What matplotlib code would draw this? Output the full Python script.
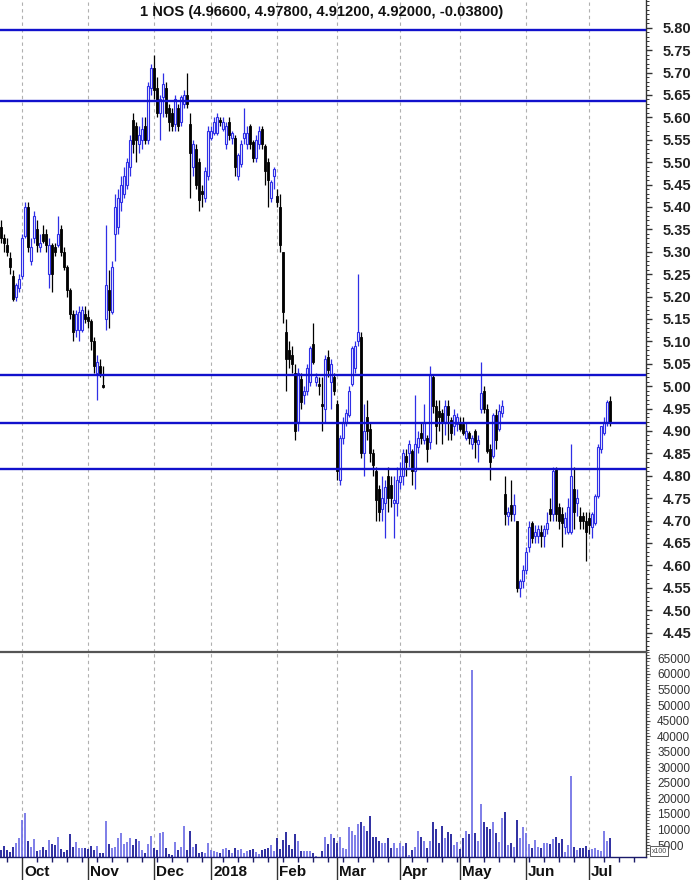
import numpy as np
import pandas as pd
import matplotlib
matplotlib.use("Agg")
import matplotlib.pyplot as plt
from matplotlib.ticker import MultipleLocator, FixedLocator, FuncFormatter, NullFormatter

plt.rcParams['font.family'] = ['Liberation Sans', 'DejaVu Sans']

# ---------------- data ----------------
title = "1 NOS (4.96600, 4.97800, 4.91200, 4.92000, -0.03800)"
holidays = ['2017-12-25', '2017-12-26', '2018-01-01', '2018-03-30', '2018-04-02', '2018-05-01']
start_date = '2017-09-21'
end_date = '2018-07-11'

opens = [5.355, 5.33, 5.315, 5.285, 5.245, 5.20, 5.22,
         5.245, 5.335, 5.40, 5.28, 5.33, 5.35, 5.31, 5.34, 5.34, 5.25, 5.315, 5.31, 5.315, 5.35, 5.30, 5.265, 5.215, 5.16, 5.125, 5.125, 5.125, 5.16,
         5.155, 5.145, 5.10, 5.03, 5.045, 5.00, 5.15, 5.215, 5.165, 5.34, 5.355, 5.41, 5.43, 5.45, 5.49, 5.595, 5.58, 5.54, 5.55, 5.58, 5.55, 5.665,
         5.71, 5.665, 5.61, 5.645, 5.665, 5.62, 5.61, 5.585, 5.62, 5.59, 5.63, 5.65, 5.585, 5.49, 5.53, 5.50, 5.435, 5.42, 5.47,
         5.555, 5.565, 5.565, 5.595, 5.575, 5.54, 5.59, 5.555, 5.555, 5.47, 5.495, 5.555, 5.54, 5.58, 5.545, 5.51, 5.54, 5.575, 5.535, 5.50, 5.42, 5.47,
         5.425, 5.40, 5.30, 5.12, 5.08, 5.07, 5.03, 4.92, 5.015, 4.98, 4.99, 5.01, 5.095, 5.01, 5.005, 4.96, 4.95, 5.065, 5.01, 5.02,
         4.96, 4.79, 4.885, 4.92, 4.935, 5.005, 5.04, 5.10, 5.11, 4.85, 4.93, 4.905, 4.85, 4.81, 4.77, 4.725, 4.74, 4.80, 4.78, 4.74, 4.74,
         4.785, 4.80, 4.845, 4.85, 4.855, 4.81, 4.865, 4.895, 4.88, 4.885, 4.875, 5.02, 4.955, 4.945, 4.94, 4.92, 4.955, 4.925, 4.91, 4.915,
         4.92, 4.915, 4.885, 4.895, 4.87, 4.90, 4.87, 4.95, 4.99, 4.95, 4.86, 4.845, 4.935, 4.905, 4.94, 4.76, 4.71, 4.735, 4.715, 4.70, 4.55, 4.565,
         4.59, 4.64, 4.695, 4.665, 4.665, 4.675, 4.665, 4.68, 4.725, 4.715, 4.815, 4.73, 4.715, 4.685, 4.675, 4.675, 4.77, 4.74, 4.71, 4.71, 4.70,
         4.705, 4.685, 4.695, 4.755, 4.86, 4.895, 4.92, 4.966]
highs = [5.37, 5.34, 5.33, 5.30, 5.26, 5.23, 5.25,
         5.34, 5.41, 5.41, 5.33, 5.39, 5.37, 5.34, 5.36, 5.35, 5.33, 5.32, 5.32, 5.38, 5.36, 5.31, 5.27, 5.22, 5.17, 5.17, 5.18, 5.18, 5.18,
         5.17, 5.15, 5.11, 5.07, 5.06, 5.045, 5.36, 5.26, 5.28, 5.43, 5.44, 5.47, 5.49, 5.51, 5.56, 5.61, 5.59, 5.58, 5.60, 5.60, 5.68, 5.72,
         5.74, 5.69, 5.65, 5.70, 5.68, 5.63, 5.62, 5.65, 5.63, 5.65, 5.66, 5.70, 5.61, 5.55, 5.54, 5.51, 5.45, 5.49, 5.58,
         5.58, 5.60, 5.61, 5.60, 5.60, 5.59, 5.60, 5.57, 5.56, 5.52, 5.55, 5.62, 5.58, 5.585, 5.55, 5.56, 5.58, 5.58, 5.54, 5.51, 5.46, 5.49,
         5.44, 5.43, 5.30, 5.15, 5.10, 5.09, 5.05, 5.04, 5.03, 5.00, 5.05, 5.09, 5.14, 5.03, 5.02, 5.02, 5.07, 5.08, 5.06, 5.03,
         4.97, 4.89, 4.93, 4.95, 5.00, 5.09, 5.10, 5.25, 5.12, 4.96, 4.97, 4.92, 4.86, 4.82, 4.78, 4.80, 4.79, 4.82, 4.80, 4.80, 4.82,
         4.83, 4.86, 4.86, 4.88, 4.86, 4.98, 4.90, 4.92, 4.96, 4.89, 5.045, 5.025, 4.97, 4.97, 4.95, 4.97, 4.97, 4.93, 4.95, 4.94,
         4.93, 4.93, 4.92, 4.90, 4.89, 4.905, 4.89, 5.055, 5.00, 4.96, 4.87, 4.94, 4.95, 4.96, 4.97, 4.80, 4.73, 4.79, 4.76, 4.70, 4.57, 4.60,
         4.64, 4.70, 4.70, 4.69, 4.69, 4.69, 4.69, 4.72, 4.75, 4.82, 4.82, 4.74, 4.73, 4.72, 4.75, 4.87, 4.82, 4.77, 4.73, 4.72, 4.72,
         4.72, 4.72, 4.76, 4.87, 4.91, 4.93, 4.97, 4.978]
lows = [5.32, 5.30, 5.29, 5.25, 5.19, 5.19, 5.21,
        5.24, 5.33, 5.30, 5.27, 5.32, 5.30, 5.30, 5.32, 5.30, 5.22, 5.21, 5.29, 5.31, 5.29, 5.26, 5.20, 5.15, 5.10, 5.11, 5.10, 5.12, 5.14,
        5.13, 5.08, 5.03, 4.97, 5.02, 4.995, 5.125, 5.13, 5.16, 5.28, 5.34, 5.39, 5.42, 5.44, 5.47, 5.52, 5.50, 5.52, 5.53, 5.54, 5.54, 5.65,
        5.64, 5.60, 5.55, 5.60, 5.60, 5.57, 5.57, 5.57, 5.57, 5.58, 5.62, 5.62, 5.42, 5.47, 5.44, 5.39, 5.40, 5.41, 5.46,
        5.55, 5.56, 5.56, 5.58, 5.57, 5.53, 5.55, 5.54, 5.47, 5.46, 5.49, 5.54, 5.53, 5.53, 5.50, 5.50, 5.53, 5.53, 5.45, 5.40, 5.41, 5.44,
        5.40, 5.30, 5.14, 4.99, 5.04, 5.03, 4.88, 4.90, 4.95, 4.96, 4.98, 5.00, 5.05, 5.00, 4.98, 4.90, 4.92, 5.02, 4.95, 4.98,
        4.79, 4.78, 4.87, 4.91, 4.93, 5.00, 5.03, 5.09, 4.84, 4.80, 4.88, 4.83, 4.80, 4.70, 4.70, 4.70, 4.66, 4.72, 4.73, 4.66, 4.71,
        4.77, 4.78, 4.80, 4.82, 4.78, 4.77, 4.85, 4.87, 4.87, 4.83, 4.86, 4.94, 4.87, 4.90, 4.87, 4.89, 4.88, 4.88, 4.89, 4.90,
        4.90, 4.89, 4.88, 4.87, 4.86, 4.84, 4.83, 4.94, 4.94, 4.85, 4.79, 4.84, 4.86, 4.90, 4.93, 4.69, 4.69, 4.70, 4.70, 4.54, 4.53, 4.55,
        4.58, 4.63, 4.65, 4.65, 4.65, 4.64, 4.64, 4.67, 4.70, 4.70, 4.70, 4.68, 4.64, 4.67, 4.67, 4.67, 4.68, 4.71, 4.68, 4.68, 4.61,
        4.67, 4.66, 4.69, 4.75, 4.85, 4.89, 4.91, 4.912]
closes = [5.33, 5.32, 5.30, 5.265, 5.195, 5.225, 5.24,
          5.33, 5.40, 5.31, 5.31, 5.38, 5.315, 5.32, 5.325, 5.315, 5.315, 5.25, 5.30, 5.34, 5.30, 5.265, 5.215, 5.16, 5.12, 5.16, 5.165, 5.17, 5.15,
          5.145, 5.10, 5.045, 5.055, 5.03, 4.998, 5.225, 5.17, 5.265, 5.40, 5.42, 5.45, 5.47, 5.50, 5.55, 5.54, 5.55, 5.56, 5.575, 5.55, 5.67, 5.71,
          5.66, 5.61, 5.64, 5.675, 5.61, 5.59, 5.58, 5.64, 5.58, 5.645, 5.65, 5.63, 5.52, 5.54, 5.45, 5.415, 5.43, 5.48, 5.57,
          5.57, 5.59, 5.60, 5.59, 5.59, 5.58, 5.56, 5.565, 5.49, 5.515, 5.54, 5.565, 5.565, 5.54, 5.51, 5.55, 5.57, 5.54, 5.48, 5.46, 5.455, 5.485,
          5.41, 5.315, 5.165, 5.06, 5.06, 5.05, 4.90, 5.03, 4.965, 4.99, 5.04, 5.085, 5.055, 5.02, 5.00, 4.955, 5.06, 5.035, 5.05, 4.99,
          4.81, 4.885, 4.92, 4.94, 4.99, 5.085, 5.09, 5.12, 4.85, 4.90, 4.90, 4.85, 4.825, 4.745, 4.72, 4.75, 4.775, 4.75, 4.75, 4.745, 4.79,
          4.80, 4.85, 4.83, 4.87, 4.81, 4.87, 4.885, 4.885, 4.92, 4.86, 5.025, 4.955, 4.91, 4.93, 4.92, 4.955, 4.935, 4.895, 4.935, 4.93,
          4.905, 4.895, 4.90, 4.885, 4.885, 4.875, 4.88, 4.985, 4.95, 4.855, 4.83, 4.935, 4.88, 4.945, 4.955, 4.715, 4.72, 4.715, 4.735, 4.55, 4.565, 4.59,
          4.63, 4.685, 4.66, 4.675, 4.68, 4.665, 4.68, 4.695, 4.715, 4.81, 4.715, 4.70, 4.695, 4.705, 4.73, 4.80, 4.72, 4.75, 4.70, 4.70, 4.675,
          4.69, 4.715, 4.755, 4.865, 4.91, 4.92, 4.965, 4.92]
volumes = [3400, 4700, 3400, 2900, 4300, 5500, 7200, 13000, 15400, 6400,
           4300, 6800, 3100, 3400, 4500, 3400, 6600, 5300, 5000, 7700,
           3600, 2900, 3400, 8400, 4300, 5900, 3900, 3900, 3900, 3700,
           4800, 3400, 4800, 2300, 2300, 12800, 5300, 3900, 4500, 7200,
           8800, 5300, 5900, 7200, 5000, 7000, 6200, 3400, 2500, 5300,
           7900, 3900, 3400, 8800, 9300, 3900, 2100, 1800, 5900, 3400,
           4500, 11100, 3400, 9500, 4500, 5200, 2500, 2900, 2300, 5500,
           3400, 3200, 2900, 2300, 3600, 3900, 3400, 2300, 4200, 3400,
           3600, 2300, 3200, 3400, 3600, 2900, 2200, 3400, 3700, 4200,
           5000, 3100, 7200, 3600, 6600, 9100, 5000, 3600, 8400, 6200,
           3100, 3100, 3100, 3100, 2300, 1500, 1300, 3100, 7500, 5300,
           8400, 7200,
           5700, 7500, 4200, 3600, 10900, 9600, 8200, 11600, 12500, 11200, 9500, 14300, 7500, 7700, 6400, 5700, 5800, 7100, 3900, 5700, 4200,
           5800, 4600, 5800, 1800, 3400, 4500, 9600, 7500, 6400, 4200, 6400, 12500, 10000, 5800, 11200, 7100, 9100, 8400, 5000, 6100,
           3600, 7100, 9500, 8400, 61250, 8800, 6400, 18200, 12300, 10900, 10200, 12500, 8800, 6100, 13800, 15600, 5000, 5800, 4500, 13000, 7100, 10700,
           8800, 5200, 4200, 6600, 4300, 3900, 5500, 5500, 5200, 6800, 7700, 5700, 6800, 2600, 5000, 27200, 4500, 3400, 3900, 3900, 4800,
           3400, 3600, 3900, 3400, 3200, 9600, 6200, 7100]
hlines = [5.796, 5.636, 5.024, 4.918, 4.814]
month_names = {10: 'Oct', 11: 'Nov', 12: 'Dec', 1: '2018', 2: 'Feb', 3: 'Mar', 4: 'Apr', 5: 'May', 6: 'Jun', 7: 'Jul'}

# ---------------- dates / positions ----------------
cal = pd.bdate_range(start_date, '2018-07-31')
cal = cal[~cal.isin(pd.to_datetime(holidays))]
n = len(closes)
assert len(opens) == len(highs) == len(lows) == n == len(volumes)
idx = np.arange(len(cal))
x = idx[:n]

month_starts = [i for i in range(1, len(cal)) if cal[i].month != cal[i - 1].month and cal[i] <= pd.Timestamp('2018-07-31')]
week_starts = [i for i in range(1, len(cal)) if cal[i].weekday() < cal[i - 1].weekday()]

o = np.array(opens); h = np.array(highs); l = np.array(lows); c = np.array(closes)
v = np.array(volumes, dtype=float)
up = c >= o

W, H = 694, 880
fig = plt.figure(figsize=(W / 100, H / 100), dpi=100)
fig.patch.set_facecolor('white')
ax = fig.add_axes([0, 1 - 652 / H, 646 / W, 652 / H])
axv = fig.add_axes([0, 1 - 857 / H, 646 / W, (857 - 652) / H], sharex=ax)

xmin, xmax = -0.44, 215.0
ax.set_xlim(xmin, xmax)
ax.set_ylim(4.4065, 5.862)
axv.set_ylim(1150, 67040)

BLUE = '#2f2fe6'
grid_kw = dict(color='#b0b0b0', lw=0.8, ls=(0, (3, 3)), zorder=0)
for ms in month_starts:
    ax.axvline(ms, **grid_kw)
    axv.axvline(ms, **grid_kw)

# candles
bw = 0.72
col_w = np.where(up, BLUE, 'black')
ax.vlines(x, l, h, colors=col_w, lw=0.9, zorder=2)
body_bot = np.minimum(o, c)
body_h = np.maximum(np.abs(c - o), 0.004)
ax.bar(x[up], body_h[up], bottom=body_bot[up], width=bw, facecolor='#eeeeff',
       edgecolor=BLUE, linewidth=0.8, zorder=3)
ax.bar(x[~up], body_h[~up], bottom=body_bot[~up], width=bw, facecolor='black',
       edgecolor='black', linewidth=0.6, zorder=3)

for y in hlines:
    ax.axhline(y, color='#1111cc', lw=1.7, zorder=4)

# volume
vcol = np.where(up, '#7474e6', '#1e1e9a')
axv.vlines(x, 0, v, colors=vcol, lw=1.3, zorder=2)

# spines
for a in (ax, axv):
    a.spines['left'].set_visible(False)
    a.spines['right'].set_color('#333333')
    a.spines['right'].set_linewidth(1.0)
ax.spines['top'].set_visible(False)
ax.spines['bottom'].set_visible(False)
axv.spines['top'].set_color('#555555')
axv.spines['top'].set_linewidth(1.6)
axv.spines['bottom'].set_color('#1a1a6a')
axv.spines['bottom'].set_linewidth(1.0)

# price axis
ax.yaxis.tick_right()
ax.yaxis.set_major_locator(FixedLocator(np.round(np.arange(4.45, 5.8001, 0.05), 2)))
ax.yaxis.set_major_formatter(FuncFormatter(lambda val, pos: f"{val:.2f}"))
ax.yaxis.set_minor_locator(MultipleLocator(0.01))
ax.tick_params(axis='y', which='major', length=4, width=1, pad=8, labelsize=10.5,
               colors='#333333', labelcolor='#222222')
ax.tick_params(axis='y', which='minor', length=2.2, width=0.7, colors='#333333')
for t in ax.get_yticklabels():
    t.set_fontweight('bold')
ax.tick_params(axis='x', which='both', bottom=False, labelbottom=False)

# volume axis
axv.yaxis.tick_right()
axv.yaxis.set_major_locator(FixedLocator(np.arange(5000, 65001, 5000)))
axv.yaxis.set_major_formatter(FuncFormatter(lambda val, pos: f"{int(val)}"))
axv.yaxis.set_minor_locator(MultipleLocator(1000))
axv.tick_params(axis='y', which='major', length=3, width=0.8, pad=5, labelsize=8.5,
                colors='#444444', labelcolor='#333333')
axv.tick_params(axis='y', which='minor', length=1.8, width=0.6, colors='#444444')

# x axis ticks
axv.xaxis.set_major_locator(FixedLocator(month_starts))
axv.xaxis.set_minor_locator(FixedLocator(week_starts))
axv.xaxis.set_major_formatter(NullFormatter())
axv.tick_params(axis='x', which='major', length=17, width=1.0, colors='#333333')
axv.tick_params(axis='x', which='minor', length=3.5, width=1.0, colors='#1a1a6a')

trans = axv.get_xaxis_transform()
for ms in month_starts:
    if cal[ms].month in month_names and ms < xmax:
        axv.text(ms + 0.6, -0.072, month_names[cal[ms].month], transform=trans,
                 ha='left', va='center', fontsize=11, fontweight='bold', color='#111111')

fig.text(322 / W, 1 - 12 / H, title, ha='center', va='center', fontsize=10.6,
         fontweight='bold', color='#111111')

fig.text(659 / W, 1 - 851 / H, 'x100', ha='center', va='center', fontsize=5, color='#444444',
         bbox=dict(boxstyle='square,pad=0.15', fc='white', ec='#444444', lw=0.6))

fig.savefig('out.png', dpi=100, facecolor='white')
